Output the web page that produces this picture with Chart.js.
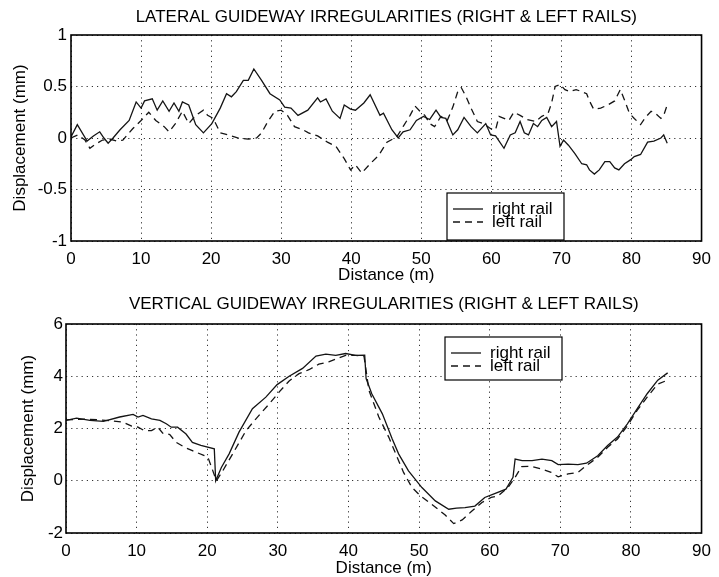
<!DOCTYPE html>
<html>
<head>
<meta charset="utf-8">
<script src="https://cdn.jsdelivr.net/npm/chart.js@4.4.0/dist/chart.umd.min.js"></script>
<style>
body { margin: 0; background: #fff; }
.panel { position: absolute; left: 0; width: 719px; }
</style>
</head>
<body>
<div class="panel" style="top:0;height:288px"><canvas id="lateral" width="719" height="288"></canvas></div>
<div class="panel" style="top:288px;height:289px"><canvas id="vertical" width="719" height="289"></canvas></div>
<script>
// tick values
const distTicks = [0, 10, 20, 30, 40, 50, 60, 70, 80, 90];
const latTicks = [-1, -0.5, 0, 0.5, 1];
const vertTicks = [-2, 0, 2, 4, 6];

// lateral irregularities (mm) vs distance (m)
const latRightX = [0, 0.9, 2.3, 3.2, 4.1, 4.7, 5.3, 6.0, 7.0, 8.3, 9.3, 10.0, 10.5, 11.6, 12.3, 13.1, 14.0, 14.7, 15.4, 15.9,
	16.8, 17.8, 18.9, 20.1, 21.3, 22.2, 22.9, 23.6, 24.6, 25.3, 26.1, 27.2, 28.4, 29.8, 30.5, 31.4, 32.4, 33.8, 35.2, 35.6,
	36.4, 37.3, 38.4, 39.0, 39.9, 40.6, 41.8, 42.7, 44.1, 44.6, 45.8, 46.7, 47.4, 48.4, 49.3, 50.3, 51.2, 52.1, 52.8, 53.5,
	54.5, 55.2, 56.1, 57.1, 58.0, 59.2, 59.9, 60.6, 61.8, 62.7, 63.4, 64.1, 64.7, 65.3, 66.0, 66.6, 67.2, 67.9, 68.6, 69.3,
	69.8, 70.3, 71.0, 71.9, 72.9, 73.6, 74.0, 74.7, 75.4, 76.2, 76.9, 77.6, 78.2, 79.0, 79.9, 80.4, 81.3, 82.3, 83.2, 84.2,
	84.6, 85.1];
const latRightY = [0.01, 0.13, -0.03, 0.02, 0.06, 0.0, -0.05, 0.0, 0.08, 0.17, 0.35, 0.29, 0.36, 0.38, 0.27, 0.36, 0.26, 0.34, 0.26, 0.35,
	0.32, 0.13, 0.05, 0.14, 0.29, 0.43, 0.40, 0.45, 0.56, 0.56, 0.67, 0.56, 0.43, 0.37, 0.30, 0.29, 0.22, 0.27, 0.39, 0.35,
	0.38, 0.26, 0.19, 0.32, 0.28, 0.27, 0.34, 0.42, 0.22, 0.24, 0.08, 0.0, 0.06, 0.08, 0.17, 0.21, 0.18, 0.27, 0.20, 0.19,
	0.03, 0.08, 0.20, 0.11, 0.05, 0.14, 0.03, 0.02, -0.10, 0.03, 0.05, 0.16, 0.05, 0.03, 0.14, 0.11, 0.17, 0.20, 0.11, 0.16,
	-0.08, -0.02, -0.07, -0.15, -0.25, -0.26, -0.31, -0.35, -0.31, -0.23, -0.23, -0.29, -0.31, -0.25, -0.21, -0.18, -0.16, -0.04, -0.03, 0.0,
	0.03, -0.05];
const latLeftX = [0, 1.0, 2.0, 2.7, 3.5, 4.5, 5.5, 6.5, 7.4, 8.8, 10.0, 11.1, 12.1, 13.3, 14.0, 14.9, 15.9, 16.8, 17.8, 18.9,
	19.5, 20.3, 21.3, 22.4, 23.9, 25.3, 26.5, 27.2, 28.1, 29.1, 30.0, 30.9, 31.9, 33.1, 33.9, 35.2, 36.6, 37.8, 39.0, 39.9,
	40.6, 41.5, 42.7, 43.9, 45.1, 46.5, 47.4, 48.4, 49.1, 49.8, 50.5, 51.2, 51.9, 52.8, 53.7, 54.5, 55.2, 55.7, 56.4, 57.1,
	58.0, 58.9, 59.9, 60.6, 61.1, 61.8, 62.5, 63.2, 64.1, 65.1, 66.3, 67.2, 68.1, 68.6, 69.1, 69.8, 70.5, 71.2, 72.1, 72.9,
	73.6, 74.0, 74.6, 75.6, 76.6, 77.6, 78.4, 79.0, 79.7, 80.4, 81.3, 82.0, 82.8, 83.4, 84.2, 84.6, 85.2];
const latLeftY = [0.0, 0.03, -0.02, -0.10, -0.06, -0.02, -0.01, -0.03, -0.02, 0.09, 0.17, 0.25, 0.17, 0.11, 0.06, 0.14, 0.26, 0.14, 0.22, 0.27,
	0.22, 0.19, 0.05, 0.03, 0.0, -0.01, 0.0, 0.05, 0.16, 0.26, 0.27, 0.22, 0.11, 0.08, 0.05, 0.02, -0.04, -0.08, -0.20, -0.31,
	-0.26, -0.34, -0.25, -0.17, -0.04, 0.01, 0.11, 0.22, 0.31, 0.26, 0.22, 0.14, 0.11, 0.21, 0.17, 0.30, 0.45, 0.49, 0.40, 0.29,
	0.16, 0.14, 0.09, 0.08, 0.21, 0.19, 0.17, 0.25, 0.22, 0.18, 0.16, 0.21, 0.24, 0.34, 0.50, 0.52, 0.47, 0.45, 0.47, 0.45,
	0.43, 0.36, 0.28, 0.29, 0.32, 0.36, 0.47, 0.37, 0.24, 0.19, 0.13, 0.20, 0.26, 0.24, 0.19, 0.22, 0.34];

// vertical irregularities (mm) vs distance (m)
const vertRightX = [0, 1.5, 3.4, 5.3, 7.6, 9.5, 10.2, 10.9, 12.1, 13.3, 14.2, 14.9, 15.8, 17.0, 17.9, 19.1, 21.0, 21.2, 22.0, 23.1,
	24.5, 26.4, 28.3, 29.9, 31.6, 33.5, 35.4, 36.8, 38.2, 39.6, 41.0, 42.3, 42.5, 43.3, 44.8, 46.2, 47.1, 48.5, 50.4, 52.3,
	54.2, 55.3, 56.5, 57.9, 59.3, 60.7, 62.3, 63.3, 63.6, 64.6, 66.0, 67.4, 68.8, 69.7, 71.1, 72.5, 73.7, 75.3, 76.7, 78.1,
	79.5, 80.9, 82.3, 83.8, 85.2];
const vertRightY = [2.31, 2.40, 2.31, 2.27, 2.44, 2.54, 2.44, 2.50, 2.37, 2.31, 2.18, 2.05, 2.05, 1.79, 1.47, 1.35, 1.22, 0.0, 0.51, 1.03,
	1.86, 2.76, 3.20, 3.68, 4.00, 4.30, 4.77, 4.85, 4.80, 4.87, 4.80, 4.81, 3.91, 3.33, 2.56, 1.60, 1.03, 0.38, -0.26, -0.77,
	-1.09, -1.05, -1.03, -0.97, -0.64, -0.49, -0.32, 0.13, 0.83, 0.77, 0.77, 0.83, 0.77, 0.62, 0.64, 0.62, 0.67, 0.96, 1.35, 1.67,
	2.18, 2.76, 3.33, 3.85, 4.13];
const vertLeftX = [0, 3.0, 6.3, 8.1, 9.3, 10.2, 11.1, 12.1, 13.0, 13.7, 14.7, 15.6, 16.8, 17.9, 19.6, 20.1, 21.3, 22.2, 23.6, 25.5,
	26.9, 28.8, 30.2, 31.6, 33.0, 34.4, 35.8, 37.2, 38.4, 39.6, 41.0, 42.2, 42.9, 44.3, 45.7, 47.8, 49.0, 50.2, 51.8, 53.7,
	54.9, 56.1, 57.4, 58.9, 60.2, 61.2, 62.6, 63.6, 64.5, 65.9, 67.3, 68.7, 69.7, 71.1, 72.5, 73.7, 75.3, 76.7, 78.1, 79.5,
	80.9, 82.3, 83.8, 85.2];
const vertLeftY = [2.33, 2.36, 2.30, 2.24, 2.09, 2.05, 1.92, 1.92, 2.05, 1.82, 1.77, 1.47, 1.28, 1.15, 0.96, 0.90, 0.0, 0.38, 1.03, 1.92,
	2.37, 2.95, 3.40, 3.82, 4.10, 4.25, 4.46, 4.55, 4.68, 4.80, 4.80, 4.77, 3.46, 2.44, 1.67, 0.32, -0.26, -0.58, -0.90, -1.31,
	-1.64, -1.50, -1.18, -0.83, -0.64, -0.58, -0.26, 0.13, 0.54, 0.55, 0.45, 0.32, 0.15, 0.26, 0.32, 0.58, 0.90, 1.28, 1.60, 2.10,
	2.70, 3.20, 3.70, 3.85];

const FONT = '"Liberation Sans", Arial, Helvetica, sans-serif';
Chart.defaults.font.family = FONT;
Chart.defaults.font.size = 17;
Chart.defaults.color = '#000';

function lineSet(label, xs, ys, dash) {
	return {
		label: label,
		data: xs.map((x, i) => ({x: x, y: ys[i]})),
		borderColor: '#141414',
		borderWidth: 1.3,
		borderDash: dash,
		pointRadius: 0,
		tension: 0,
		fill: false
	};
}

// box round the plot + matlab-style legend inside it
const railLegend = {
	id: 'railLegend',
	afterDraw(chart, args, opts) {
		const a = chart.chartArea, ctx = chart.ctx;
		ctx.save();
		ctx.strokeStyle = '#000';
		ctx.lineWidth = 1.6;
		ctx.strokeRect(a.left, a.top, a.right - a.left, a.bottom - a.top);

		const x = a.left + opts.left, y = a.top + opts.top;
		ctx.fillStyle = '#fff';
		ctx.fillRect(x, y, opts.width, opts.height);
		ctx.lineWidth = 1.2;
		ctx.strokeRect(x, y, opts.width, opts.height);

		ctx.font = '17px ' + FONT;
		ctx.textBaseline = 'middle';
		chart.data.datasets.forEach((ds, i) => {
			let ly = y + 16 + i * 13;
			ctx.strokeStyle = ds.borderColor;
			ctx.lineWidth = ds.borderWidth;
			ctx.setLineDash(ds.borderDash || []);
			ctx.beginPath();
			ctx.moveTo(x + 6, ly);
			ctx.lineTo(x + 36, ly);
			ctx.stroke();
			ctx.setLineDash([]);
			ctx.fillStyle = '#000';
			ctx.fillText(ds.label, x + 45, ly);
		});
		ctx.restore();
	}
};

function makeChart(id, cfg) {
	let grid = {color: '#333', lineWidth: 1, drawTicks: false};
	let border = {display: false, dash: [1.2, 4]};

	return new Chart(document.getElementById(id), {
		type: 'line',
		data: {
			datasets: [
				lineSet('right rail', cfg.rightX, cfg.rightY, []),
				lineSet('left rail', cfg.leftX, cfg.leftY, [7, 5])
			]
		},
		options: {
			responsive: false,
			animation: false,
			layout: {padding: {left: 0, right: cfg.padRight, top: 0, bottom: 0}},
			plugins: {
				legend: {display: false},
				tooltip: {enabled: false},
				title: {
					display: true,
					text: cfg.title,
					fullSize: false,
					font: {size: 17, weight: 'normal'},
					padding: {top: cfg.titleTop, bottom: cfg.titleBottom}
				},
				railLegend: cfg.legend
			},
			scales: {
				x: {
					type: 'linear',
					min: 0,
					max: 90,
					grid: grid,
					border: border,
					afterBuildTicks: s => { s.ticks = distTicks.map(v => ({value: v})); },
					afterFit: s => { s.height = cfg.xHeight; },
					ticks: {padding: 8, maxRotation: 0, callback: v => String(v)},
					title: {display: true, text: 'Distance (m)', font: {size: 17, lineHeight: 1}, padding: {top: 0, bottom: cfg.xTitlePad}}
				},
				y: {
					min: cfg.yTicks[0],
					max: cfg.yTicks[cfg.yTicks.length - 1],
					grid: grid,
					border: border,
					afterBuildTicks: s => { s.ticks = cfg.yTicks.map(v => ({value: v})); },
					afterFit: s => { s.width = cfg.yWidth; },
					ticks: {padding: cfg.yTickPad, callback: v => String(v)},
					title: {display: true, text: 'Displacement (mm)', font: {size: 17, lineHeight: 1}, padding: {top: cfg.yTitlePad, bottom: 0}}
				}
			}
		},
		plugins: [railLegend]
	});
}

makeChart('lateral', {
	title: 'LATERAL GUIDEWAY IRREGULARITIES (RIGHT & LEFT RAILS)',
	rightX: latRightX, rightY: latRightY, leftX: latLeftX, leftY: latLeftY,
	yTicks: latTicks,
	yWidth: 71, yTickPad: 4, yTitlePad: 12,
	xHeight: 47, xTitlePad: 4,
	padRight: 11, titleTop: 7, titleBottom: 7.6,
	legend: {left: 376, top: 158, width: 117, height: 47}
});

makeChart('vertical', {
	title: 'VERTICAL GUIDEWAY IRREGULARITIES (RIGHT & LEFT RAILS)',
	rightX: vertRightX, rightY: vertRightY, leftX: vertLeftX, leftY: vertLeftY,
	yTicks: vertTicks,
	yWidth: 66, yTickPad: 3, yTitlePad: 20,
	xHeight: 44, xTitlePad: 0.5,
	padRight: 15, titleTop: 6, titleBottom: 9.6,
	legend: {left: 379, top: 13, width: 117, height: 43}
});
</script>
</body>
</html>
